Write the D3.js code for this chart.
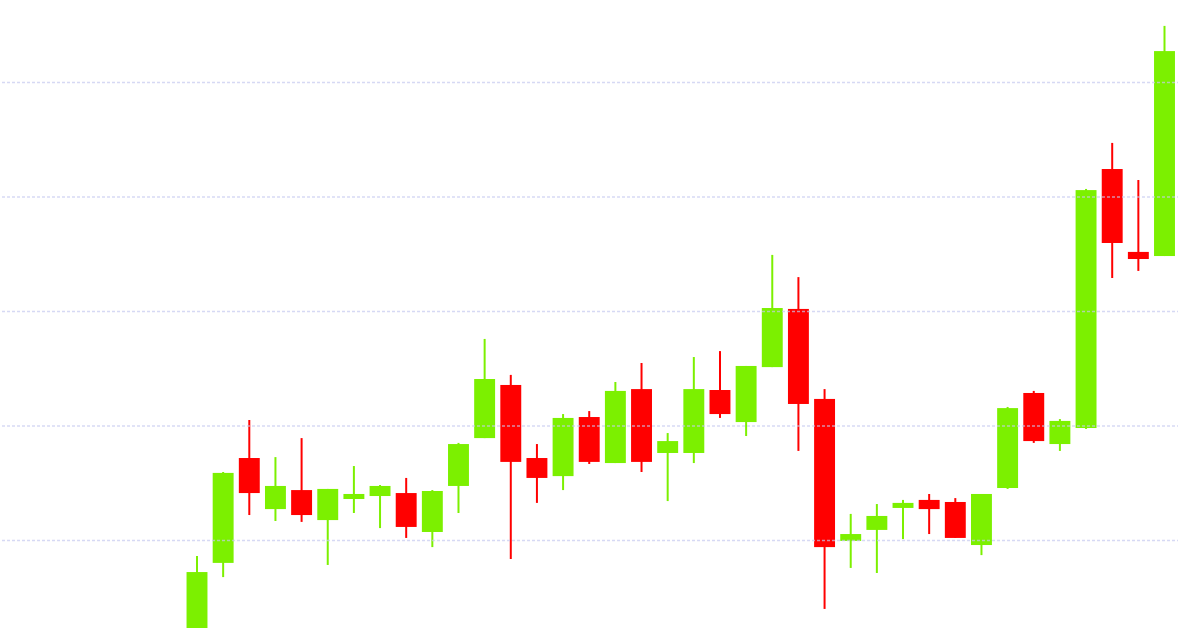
<!DOCTYPE html>
<html>
<head>
<meta charset="utf-8">
<script src="https://cdn.jsdelivr.net/npm/d3@7/dist/d3.min.js"></script>
<style>
  html, body { margin: 0; padding: 0; background: #ffffff; }
  svg { display: block; }
</style>
</head>
<body>
<svg id="chart" width="1200" height="628"></svg>
<script>
// ---- data ----
const days  = d3.range(1, 39).map(d => "D" + d);
const open  = [8476, 8900, 9358, 9135, 9218, 9087, 9179, 9192, 9205, 9035,
               9236, 9445, 9677, 9358, 9279, 9537, 9336, 9659, 9380, 9380,
               9655, 9515, 9755, 10009, 9616, 8996, 9044, 9140, 9175, 9166,
               8978, 9227, 9642, 9419, 9489, 10620, 10258, 10240];
const high  = [8930, 9297, 9524, 9362, 9445, 9223, 9323, 9240, 9271, 9218,
               9424, 9878, 9721, 9419, 9550, 9563, 9690, 9773, 9467, 9799,
               9825, 9760, 10245, 10148, 9659, 9114, 9157, 9175, 9201, 9183,
               9201, 9581, 9651, 9528, 10533, 10734, 10572, 11245];
const low   = [8410, 8838, 9109, 9083, 9079, 8891, 9118, 9052, 9009, 8969,
               9118, 9445, 8917, 9162, 9218, 9332, 9336, 9297, 9170, 9336,
               9533, 9454, 9755, 9389, 8699, 8878, 8856, 9004, 9026, 9009,
               8934, 9223, 9424, 9389, 9485, 10144, 10175, 10240];
const close = [8860, 9293, 9205, 9236, 9109, 9223, 9201, 9236, 9057, 9214,
               9419, 9703, 9341, 9271, 9533, 9341, 9651, 9341, 9432, 9659,
               9550, 9760, 10013, 9594, 8969, 9026, 9105, 9162, 9135, 9009,
               9201, 9576, 9432, 9520, 10528, 10297, 10227, 11135];
const gridTicks = [9000, 9500, 10000, 10500, 11000];

const candles = days.map((d, i) => ({ day: d, o: open[i], h: high[i], l: low[i], c: close[i] }));

// ---- scales ----
const svg = d3.select("#chart");
const x = d3.scalePoint().domain(days).range([197, 1164.5]);
const y = d3.scaleLinear().domain([9000, 11000]).range([540, 82]);
const bodyW = x.step() * 0.8;

const green = "#7cf000";
const red = "#ff0000";
const col = d => d.c >= d.o ? green : red;

// ---- candles ----
const g = svg.append("g");
g.selectAll("line.wick").data(candles).join("line")
  .attr("class", "wick")
  .attr("x1", d => x(d.day)).attr("x2", d => x(d.day))
  .attr("y1", d => y(d.h)).attr("y2", d => y(d.l))
  .attr("stroke", col).attr("stroke-width", 2);

g.selectAll("rect.body").data(candles).join("rect")
  .attr("class", "body")
  .attr("x", d => x(d.day) - bodyW / 2)
  .attr("width", bodyW)
  .attr("y", d => y(Math.max(d.o, d.c)))
  .attr("height", d => Math.max(2, Math.abs(y(d.o) - y(d.c))))
  .attr("fill", col);

// ---- grid (drawn over candles, translucent) ----
const yAxis = d3.axisRight(y).tickValues(gridTicks).tickSize(1176).tickFormat("");
const ga = svg.append("g").attr("transform", "translate(2,0)").call(yAxis);
ga.select(".domain").remove();
ga.selectAll(".tick line")
  .attr("stroke", "#c4c9f0")
  .attr("stroke-opacity", 0.7)
  .attr("stroke-width", 1.5)
  .attr("stroke-dasharray", "3,2");
</script>
</body>
</html>
